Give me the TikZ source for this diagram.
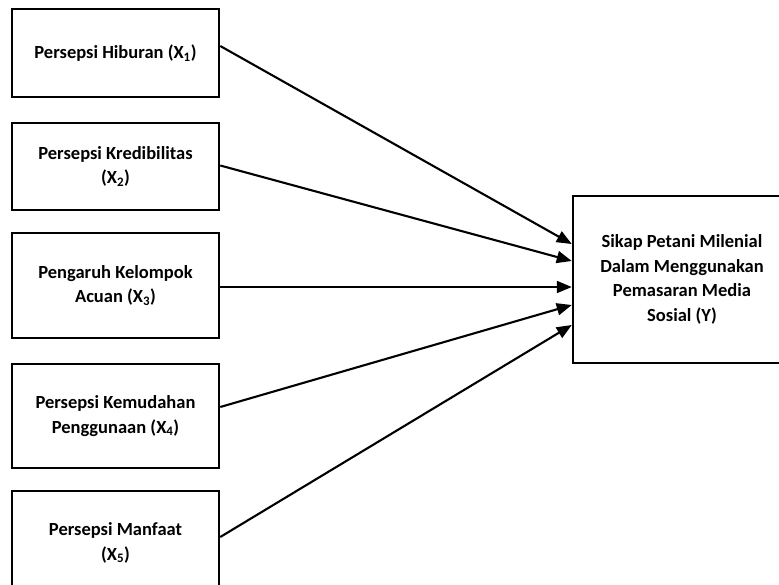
\documentclass[tikz,border=0pt]{standalone}
\usepackage{fontspec}
\setmainfont{Carlito}
\usetikzlibrary{arrows.meta,positioning}

\begin{document}
\begin{tikzpicture}[x=1pt, y=-1pt,
    box/.style={draw, line width=2.5pt, align=center, font=\fontsize{18.5}{24.5}\selectfont\bfseries, inner sep=0pt},
    link/.style={line width=2.1pt, -{Triangle[length=15pt,width=12pt]}}]
    % Page area
    \clip (0,0) rectangle (779,584);
    \fill[white] (0,0) rectangle (779,584);

    % Variables X1 to X5
    \node[box, minimum width=207pt, minimum height=88pt] (hib) at (115.5,53) {Persepsi Hiburan (X\textsubscript{1})};
    \node[box, minimum width=207pt, minimum height=87pt] (kred) at (115.5,166.5) {Persepsi Kredibilitas\\(X\textsubscript{2})};
    \node[box, minimum width=207pt, minimum height=105pt] (acuan) at (115.5,285.5) {Pengaruh Kelompok\\Acuan (X\textsubscript{3})};
    \node[box, minimum width=207pt, minimum height=104pt] (mudah) at (115.5,416) {Persepsi Kemudahan\\Penggunaan (X\textsubscript{4})};
    \node[box, minimum width=207pt, minimum height=104pt] (manfaat) at (115.5,543) {Persepsi Manfaat\\(X\textsubscript{5})};

    % Variable Y
    \node[box, minimum width=218pt, minimum height=167pt] (sikap) at (682,279.5) {Sikap Petani Milenial\\Dalam Menggunakan\\Pemasaran Media\\Sosial (Y)};

    \draw[link] ([yshift=7pt]hib.east) -- ([yshift=35.5pt]sikap.west);
    \draw[link] ([yshift=1pt]kred.east) -- ([yshift=18.5pt]sikap.west);
    \draw[link] ([yshift=-1.5pt]acuan.east) -- ([yshift=-7.5pt]sikap.west);
    \draw[link] ([yshift=9pt]mudah.east) -- ([yshift=-25.5pt]sikap.west);
    \draw[link] ([yshift=6pt]manfaat.east) -- ([yshift=-45.5pt]sikap.west);
\end{tikzpicture}
\end{document}
